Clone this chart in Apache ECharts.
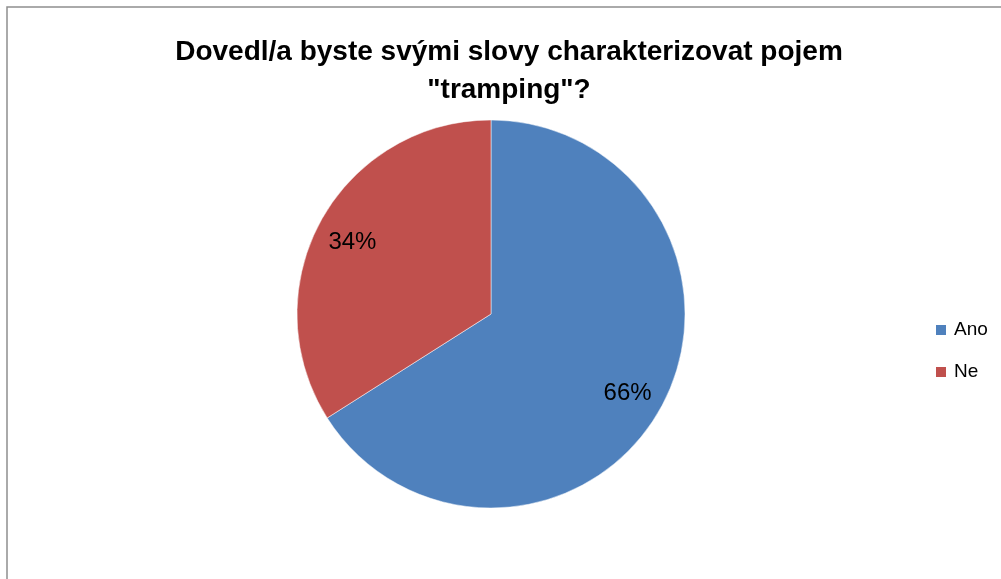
<!DOCTYPE html>
<html>
<head>
<meta charset="utf-8">
<script src="https://cdn.jsdelivr.net/npm/echarts@6/dist/echarts.min.js"></script>
<style>
  html, body { margin: 0; padding: 0; background: #fff; }
  #chart { width: 1001px; height: 579px; }
</style>
</head>
<body>
<div id="chart"></div>
<script>
// odpovedi a podily v procentech
var categories = ['Ano', 'Ne'];
var values = [66, 34];
var colors = ['#4F81BD', '#C0504D'];

var pieData = categories.map(function (name, i) {
    return { name: name, value: values[i], itemStyle: { color: colors[i] } };
});

var option = {
    animation: false,
    title: {
        text: 'Dovedl/a byste svými slovy charakterizovat pojem\n"tramping"?',
        left: 509,
        top: 33,
        padding: 0,
        textAlign: 'center',
        textStyle: {
            color: '#000',
            fontFamily: "'Liberation Sans', sans-serif",
            fontWeight: 'bold',
            fontSize: 28,
            lineHeight: 38
        }
    },
    legend: {
        orient: 'vertical',
        left: 934,
        top: 320,
        padding: 0,
        itemWidth: 12,
        itemHeight: 12,
        itemGap: 22,
        icon: 'rect',
        data: categories,
        textStyle: {
            color: '#000',
            fontFamily: "'Liberation Sans', sans-serif",
            fontSize: 19,
            lineHeight: 20,
            padding: [0, 0, 0, 2]
        }
    },
    graphic: [{
        type: 'rect',
        shape: { x: 7, y: 7, width: 1100, height: 700 },
        style: { fill: 'none', stroke: '#8f8f8f', lineWidth: 1.5 },
        silent: true
    }],
    series: [{
        name: 'tramping',
        type: 'pie',
        center: [491, 314],
        radius: [0, 194],
        startAngle: 90,
        clockwise: true,
        data: pieData,
        label: { show: false },
        labelLine: { show: false },
        itemStyle: { borderColor: '#fff', borderWidth: 0.5 }
    }, {
        // jen popisky, posunute dal od stredu
        name: 'popisky',
        type: 'pie',
        center: [490, 318],
        radius: [0, 308],
        startAngle: 90,
        clockwise: true,
        silent: true,
        data: categories.map(function (name, i) {
            return { name: name, value: values[i], itemStyle: { color: 'rgba(0,0,0,0)' } };
        }),
        label: {
            show: true,
            position: 'inside',
            formatter: '{c}%',
            color: '#000',
            fontFamily: "'Liberation Sans', sans-serif",
            fontSize: 24
        },
        labelLine: { show: false },
        z: 3
    }]
};

var myChart = echarts.init(document.getElementById('chart'));
myChart.setOption(option);
</script>
</body>
</html>
